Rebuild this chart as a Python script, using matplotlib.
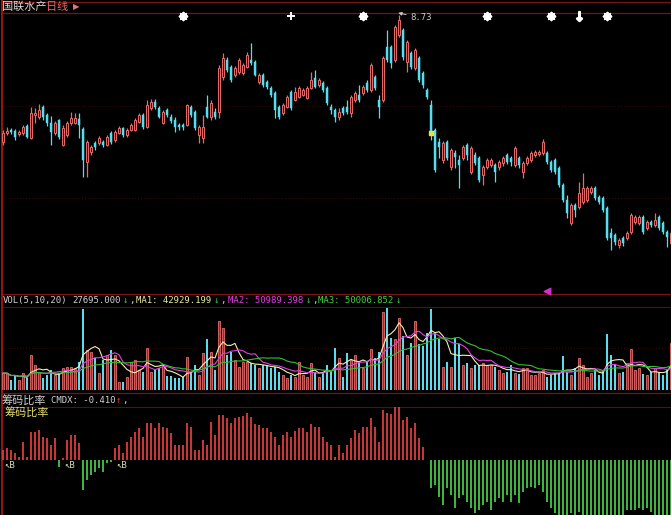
import numpy as np
import pandas as pd
import matplotlib
matplotlib.use('Agg')
import matplotlib.pyplot as plt

plt.rcParams['font.family'] = ['DejaVu Sans', 'Noto Sans CJK SC']

W, H = 671, 515

# daily candles
opens = [
    7.46, 7.55, 7.58, 7.57, 7.54, 7.55, 7.62, 7.50, 7.73, 7.71,
    7.81, 7.73, 7.65, 7.55, 7.68, 7.43, 7.53, 7.65, 7.65, 7.69,
    7.59, 7.26, 7.36, 7.45, 7.45, 7.46, 7.43, 7.55, 7.48, 7.55,
    7.60, 7.53, 7.58, 7.58, 7.66, 7.73, 7.61, 7.80, 7.86, 7.80,
    7.65, 7.78, 7.71, 7.68, 7.63, 7.63, 7.63, 7.81, 7.76, 7.53,
    7.50, 7.81, 7.71, 7.76, 7.76, 8.11, 8.28, 8.21, 8.13, 8.16,
    8.15, 8.21, 8.28, 8.26, 8.06, 8.13, 8.06, 8.00, 7.95, 7.81,
    7.75, 7.81, 7.96, 7.88, 7.91, 7.93, 7.90, 8.00, 8.10, 8.03,
    8.05, 8.00, 7.81, 7.78, 7.71, 7.80, 7.81, 7.75, 7.88, 7.93,
    7.95, 8.05, 7.98, 8.11, 7.88, 7.88, 8.41, 8.41, 8.28, 8.53,
    8.58, 8.26, 8.35, 8.20, 8.30, 8.15, 7.98, 7.83, 7.58, 7.46,
    7.28, 7.46, 7.21, 7.35, 7.28, 7.30, 7.43, 7.16, 7.33, 7.30,
    7.13, 7.21, 7.23, 7.23, 7.21, 7.25, 7.33, 7.30, 7.23, 7.30,
    7.16, 7.25, 7.28, 7.33, 7.34, 7.35, 7.35, 7.26, 7.28, 7.20,
    7.03, 6.88, 6.65, 6.83, 6.81, 6.86, 6.88, 6.96, 7.00, 6.91,
    6.90, 6.80, 6.55, 6.53, 6.43, 6.50, 6.50, 6.56, 6.66, 6.65,
    6.71, 6.60, 6.66, 6.63, 6.71, 6.65, 6.56, 6.45]
closes = [
    7.55, 7.57, 7.56, 7.51, 7.56, 7.61, 7.51, 7.75, 7.75, 7.78,
    7.71, 7.65, 7.56, 7.65, 7.51, 7.60, 7.65, 7.70, 7.70, 7.63,
    7.28, 7.46, 7.41, 7.41, 7.50, 7.43, 7.51, 7.46, 7.56, 7.60,
    7.53, 7.58, 7.63, 7.68, 7.73, 7.61, 7.83, 7.86, 7.81, 7.71,
    7.76, 7.73, 7.67, 7.61, 7.61, 7.61, 7.83, 7.73, 7.60, 7.61,
    7.61, 7.71, 7.85, 7.71, 8.20, 8.30, 8.18, 8.08, 8.20, 8.28,
    8.23, 8.33, 8.25, 8.13, 8.13, 8.03, 8.01, 7.93, 7.78, 7.71,
    7.83, 7.91, 7.80, 7.96, 8.00, 7.98, 8.00, 8.08, 8.01, 8.08,
    7.98, 7.85, 7.78, 7.71, 7.76, 7.75, 7.76, 7.91, 7.95, 7.88,
    8.01, 7.98, 8.23, 8.00, 7.81, 8.30, 8.28, 8.25, 8.61, 8.68,
    8.31, 8.46, 8.21, 8.38, 8.08, 8.03, 7.91, 7.56, 7.18, 7.41,
    7.45, 7.30, 7.38, 7.31, 7.23, 7.41, 7.33, 7.40, 7.25, 7.08,
    7.21, 7.28, 7.28, 7.16, 7.26, 7.30, 7.26, 7.26, 7.40, 7.23,
    7.25, 7.30, 7.35, 7.36, 7.36, 7.46, 7.26, 7.18, 7.16, 7.03,
    6.88, 6.75, 6.83, 6.78, 6.95, 7.00, 7.00, 7.00, 6.90, 6.86,
    6.78, 6.50, 6.50, 6.46, 6.48, 6.45, 6.55, 6.73, 6.71, 6.71,
    6.56, 6.66, 6.63, 6.68, 6.60, 6.56, 6.51, 6.55]
highs = [
    7.58, 7.61, 7.60, 7.59, 7.58, 7.63, 7.64, 7.81, 7.80, 7.84,
    7.83, 7.75, 7.72, 7.67, 7.69, 7.63, 7.67, 7.76, 7.75, 7.75,
    7.61, 7.48, 7.43, 7.47, 7.52, 7.48, 7.53, 7.57, 7.58, 7.62,
    7.61, 7.60, 7.65, 7.70, 7.75, 7.75, 7.88, 7.89, 7.89, 7.82,
    7.78, 7.80, 7.74, 7.71, 7.65, 7.65, 7.84, 7.83, 7.78, 7.63,
    7.73, 7.93, 7.88, 7.80, 8.23, 8.35, 8.31, 8.23, 8.22, 8.30,
    8.25, 8.36, 8.45, 8.28, 8.15, 8.15, 8.08, 8.02, 7.97, 7.83,
    7.85, 7.93, 7.98, 8.01, 8.02, 8.00, 8.02, 8.16, 8.18, 8.10,
    8.07, 8.02, 7.84, 7.80, 7.80, 7.82, 7.88, 7.93, 7.97, 8.03,
    8.03, 8.08, 8.25, 8.13, 7.93, 8.32, 8.58, 8.43, 8.63, 8.73,
    8.60, 8.48, 8.37, 8.40, 8.32, 8.17, 8.00, 7.88, 7.60, 7.50,
    7.47, 7.48, 7.40, 7.38, 7.33, 7.43, 7.45, 7.42, 7.36, 7.32,
    7.23, 7.30, 7.30, 7.25, 7.28, 7.32, 7.35, 7.32, 7.42, 7.32,
    7.27, 7.32, 7.37, 7.38, 7.38, 7.49, 7.37, 7.28, 7.30, 7.22,
    7.05, 6.93, 6.85, 6.85, 7.06, 7.15, 7.02, 7.02, 7.02, 6.93,
    6.92, 6.82, 6.60, 6.55, 6.50, 6.52, 6.57, 6.75, 6.73, 6.73,
    6.73, 6.68, 6.68, 6.75, 6.73, 6.67, 6.58, 6.57]
lows = [
    7.43, 7.53, 7.54, 7.48, 7.52, 7.53, 7.50, 7.49, 7.65, 7.69,
    7.68, 7.62, 7.43, 7.53, 7.49, 7.42, 7.51, 7.63, 7.64, 7.50,
    7.11, 7.11, 7.33, 7.38, 7.43, 7.41, 7.42, 7.44, 7.46, 7.54,
    7.51, 7.51, 7.57, 7.57, 7.65, 7.59, 7.60, 7.78, 7.79, 7.70,
    7.64, 7.71, 7.65, 7.56, 7.58, 7.58, 7.62, 7.71, 7.58, 7.45,
    7.45, 7.70, 7.68, 7.69, 7.70, 8.08, 8.16, 8.06, 8.11, 8.14,
    8.13, 8.20, 8.23, 8.12, 8.04, 8.01, 7.99, 7.91, 7.70, 7.69,
    7.73, 7.80, 7.78, 7.87, 7.90, 7.92, 7.89, 7.99, 8.00, 8.01,
    7.96, 7.83, 7.74, 7.66, 7.68, 7.73, 7.74, 7.71, 7.86, 7.86,
    7.93, 7.96, 7.96, 7.98, 7.70, 7.86, 8.26, 8.20, 8.26, 8.51,
    8.28, 8.16, 8.19, 8.18, 8.06, 8.00, 7.89, 7.48, 7.16, 7.30,
    7.25, 7.28, 7.18, 7.20, 7.00, 7.28, 7.28, 7.14, 7.23, 7.06,
    7.03, 7.19, 7.21, 7.06, 7.18, 7.22, 7.24, 7.22, 7.21, 7.20,
    7.10, 7.23, 7.26, 7.31, 7.32, 7.33, 7.24, 7.16, 7.14, 7.01,
    6.86, 6.70, 6.63, 6.71, 6.79, 6.84, 6.86, 6.94, 6.88, 6.84,
    6.76, 6.48, 6.38, 6.43, 6.40, 6.42, 6.48, 6.54, 6.64, 6.63,
    6.54, 6.58, 6.61, 6.61, 6.58, 6.54, 6.41, 6.43]

# volume, thousands of lots
vol_k = [
    34, 34, 20, 30, 20, 34, 24, 70, 50, 36,
    24, 30, 40, 30, 34, 44, 46, 46, 44, 56,
    164, 80, 76, 64, 34, 60, 70, 80, 70, 16,
    16, 26, 56, 60, 40, 36, 86, 36, 40, 44,
    50, 28, 28, 24, 24, 26, 66, 36, 50, 30,
    74, 104, 76, 40, 140, 126, 70, 76, 60, 46,
    56, 56, 54, 50, 44, 50, 50, 44, 46, 36,
    30, 24, 30, 26, 56, 30, 26, 54, 36, 26,
    36, 50, 36, 86, 64, 26, 74, 60, 70, 56,
    44, 56, 84, 64, 76, 158, 166, 106, 104, 146,
    110, 70, 96, 140, 94, 90, 116, 164, 116, 104,
    46, 56, 46, 106, 94, 50, 54, 44, 50, 50,
    54, 50, 50, 46, 40, 34, 36, 50, 34, 32,
    44, 44, 30, 30, 34, 40, 26, 30, 34, 34,
    68, 36, 30, 44, 64, 50, 26, 34, 40, 30,
    40, 114, 70, 50, 34, 36, 54, 84, 40, 44,
    32, 30, 36, 44, 36, 30, 40, 96]

# 筹码比率 CMDX
cmdx = [
    0.10, 0.12, 0.10, 0.07, 0.03, 0.18, 0.03, 0.28, 0.28, 0.30,
    0.23, 0.22, 0.15, 0.22, -0.07, 0.02, 0.20, 0.25, 0.25, 0.17,
    -0.30, -0.20, -0.15, -0.12, -0.08, -0.12, -0.03, -0.02, 0.12, 0.15,
    0.07, 0.18, 0.23, 0.28, 0.32, 0.23, 0.37, 0.37, 0.32, 0.37,
    0.33, 0.32, 0.27, 0.15, 0.15, 0.15, 0.37, 0.33, 0.10, 0.10,
    0.20, 0.15, 0.38, 0.25, 0.45, 0.45, 0.42, 0.37, 0.42, 0.43,
    0.44, 0.47, 0.43, 0.36, 0.35, 0.32, 0.32, 0.28, 0.23, 0.15,
    0.25, 0.28, 0.23, 0.29, 0.32, 0.32, 0.28, 0.36, 0.33, 0.33,
    0.23, 0.18, 0.15, 0.03, 0.15, 0.07, 0.15, 0.22, 0.30, 0.27,
    0.33, 0.33, 0.42, 0.33, 0.18, 0.50, 0.47, 0.46, 0.53, 0.53,
    0.40, 0.43, 0.32, 0.37, 0.22, 0.13, 0.00, -0.28, -0.25, -0.37,
    -0.45, -0.28, -0.35, -0.48, -0.38, -0.35, -0.42, -0.48, -0.53, -0.50,
    -0.45, -0.42, -0.50, -0.42, -0.38, -0.42, -0.35, -0.42, -0.35, -0.43,
    -0.32, -0.28, -0.27, -0.28, -0.25, -0.32, -0.42, -0.48, -0.53, -0.56,
    -0.56, -0.56, -0.53, -0.56, -0.52, -0.56, -0.56, -0.56, -0.55, -0.56,
    -0.56, -0.56, -0.55, -0.56, -0.56, -0.55, -0.50, -0.50, -0.50, -0.48,
    -0.50, -0.48, -0.52, -0.55, -0.56, -0.56, -0.56, -0.56]

star_idx = [45, 72, 90, 121, 137, 144, 151]
star_kind = ['star', 'plus', 'star', 'star', 'star', 'down', 'star']
buy_idx = [0, 15, 28]
peak_idx = 99
cursor_idx = 136
signal_idx = [107]
signal_price = [7.55]

RED = '#e86a6a'
CYAN = '#58dcee'
FRAME = '#7a1212'
DIM = '#360808'
MONO = ['DejaVu Sans Mono', 'DejaVu Sans']
CJK = ['Noto Sans CJK SC', 'DejaVu Sans']


def box(x0, y0, x1, y1):
    return [x0 / W, 1 - y1 / H, (x1 - x0) / W, (y1 - y0) / H]


n = len(closes)
idx = np.arange(n)
o = np.array(opens)
c = np.array(closes)
up = c >= o
XL = (-0.25, 167.0)

fig = plt.figure(figsize=(W / 100, H / 100), dpi=100, facecolor='black')

# frame lines
bg = fig.add_axes([0, 0, 1, 1], zorder=0)
bg.set_xlim(0, W)
bg.set_ylim(H, 0)
bg.set_facecolor('black')
bg.axis('off')
bg.hlines([2, 13, 294, 393], 2, W, color=FRAME, lw=0.9)
bg.hlines([307, 407], 2, W, color='#5a0e0e', lw=0.8)
bg.hlines([106, 198, 348], 2, W, color=DIM, lw=0.8, linestyles=':')
bg.vlines(1.5, 0, H, color='#a01818', lw=1.3)

# price panel
ax = fig.add_axes(box(2, 14, W, 294), zorder=1)
ax.patch.set_alpha(0)
ax.set_xlim(*XL)
ax.set_ylim(5.94, 8.74)
ax.axis('off')
ax.vlines(idx, lows, highs, colors=[RED if u else CYAN for u in up], lw=0.9, zorder=2)
body_lo = np.minimum(o, c)
body_h = np.maximum(np.abs(c - o), 0.012)
ax.bar(idx[up], body_h[up], bottom=body_lo[up], width=0.72, color='#3a0e0e',
       edgecolor=RED, linewidth=0.7, zorder=3)
ax.bar(idx[~up], body_h[~up], bottom=body_lo[~up], width=0.72, color=CYAN,
       edgecolor=CYAN, linewidth=0.3, zorder=3)
ax.scatter(signal_idx, signal_price, marker='s', s=7, c='#e8e040', zorder=4)

markers = {'star': (8, 2, 0), 'plus': '+', 'down': '$\\downarrow$'}
for i, k in zip(star_idx, star_kind):
    ax.scatter([i], [8.72], marker=markers[k], s=30 if k != 'down' else 45,
               c='white', linewidths=1.4, clip_on=False, zorder=6)

ax.annotate('8.73', xy=(peak_idx - 0.2, highs[peak_idx] + 0.02),
            xytext=(peak_idx + 2.8, highs[peak_idx] - 0.025),
            color='#c8c8c8', fontsize=6.5, family=MONO, va='center', ha='left',
            annotation_clip=False,
            arrowprops=dict(arrowstyle='-|>', color='#c8c8c8', lw=0.7,
                            mutation_scale=5, shrinkA=1, shrinkB=0))
ax.scatter([cursor_idx], [5.97], marker='<', s=22, c='#d030d0',
           clip_on=False, zorder=6)

# volume panel
vx = fig.add_axes(box(2, 307, W, 390), zorder=1)
vx.patch.set_alpha(0)
vx.set_xlim(*XL)
vx.set_ylim(0, 168)
vx.axis('off')
v = np.array(vol_k, dtype=float)
vx.bar(idx[up], v[up], width=0.72, color='#8a3030', edgecolor=RED, linewidth=0.6)
vx.bar(idx[~up], v[~up], width=0.72, color=CYAN, linewidth=0)
s = pd.Series(v)
for win, col in [(5, '#f0f0b0'), (10, '#e040e0'), (20, '#30c030')]:
    vx.plot(idx, s.rolling(win, min_periods=1).mean(), color=col, lw=0.8)

# CMDX panel
cx = fig.add_axes(box(2, 407, W, 515), zorder=1)
cx.patch.set_alpha(0)
cx.set_xlim(*XL)
cx.set_ylim(-0.555, 0.53)
cx.axis('off')
cm = np.array(cmdx)
cx.vlines(idx, 0, cm, colors=['#e83c3c' if val >= 0 else '#48d048' for val in cm], lw=1.25)
for i in buy_idx:
    cx.text(i + 0.2, -0.015, '↖B', color='#e0e0b0', fontsize=6.5, family=MONO,
            va='top', ha='left')

# header texts
fg = fig.add_axes([0, 0, 1, 1], zorder=5)
fg.patch.set_alpha(0)
fg.set_xlim(0, W)
fg.set_ylim(H, 0)
fg.axis('off')

fg.text(2, 7, '国联水产', color='#d8d8d8', fontsize=8, family=CJK, va='center')
fg.text(46, 7, '日线', color='#e86464', fontsize=8, family=CJK, va='center')
fg.text(73, 7, '▶', color='#e07878', fontsize=6, va='center')

GREEN = '#40d040'
vol_head = [(3, 'VOL(5,10,20)', '#d0d0d0'), (72, '27695.000', '#d0d0d0'),
            (123, '↓', GREEN), (129, ',', '#d0d0d0'),
            (136, 'MA1: 42929.199', '#e8e8a0'), (214, '↓', GREEN), (220, ',', '#d0d0d0'),
            (228, 'MA2: 50989.398', '#e040e0'), (306, '↓', GREEN), (312, ',', '#d0d0d0'),
            (318, 'MA3: 50006.852', GREEN), (396, '↓', GREEN)]
for x, t, col in vol_head:
    fg.text(x, 300.5, t, color=col, fontsize=6.5, family=MONO, va='center', ha='left')

fg.text(2, 400, '筹码比率', color='#d0d0d0', fontsize=8, family=CJK, va='center')
fg.text(51, 400.5, 'CMDX: -0.410', color='#d0d0d0', fontsize=6.5, family=MONO, va='center')
fg.text(116, 400.5, '↑', color='#e04040', fontsize=6.5, family=MONO, va='center')
fg.text(122, 400.5, ',', color='#d0d0d0', fontsize=6.5, family=MONO, va='center')
fg.text(5, 412, '筹码比率', color='#e8e070', fontsize=8, family=CJK, va='center')

fig.savefig('out.png', dpi=100, facecolor='black')
